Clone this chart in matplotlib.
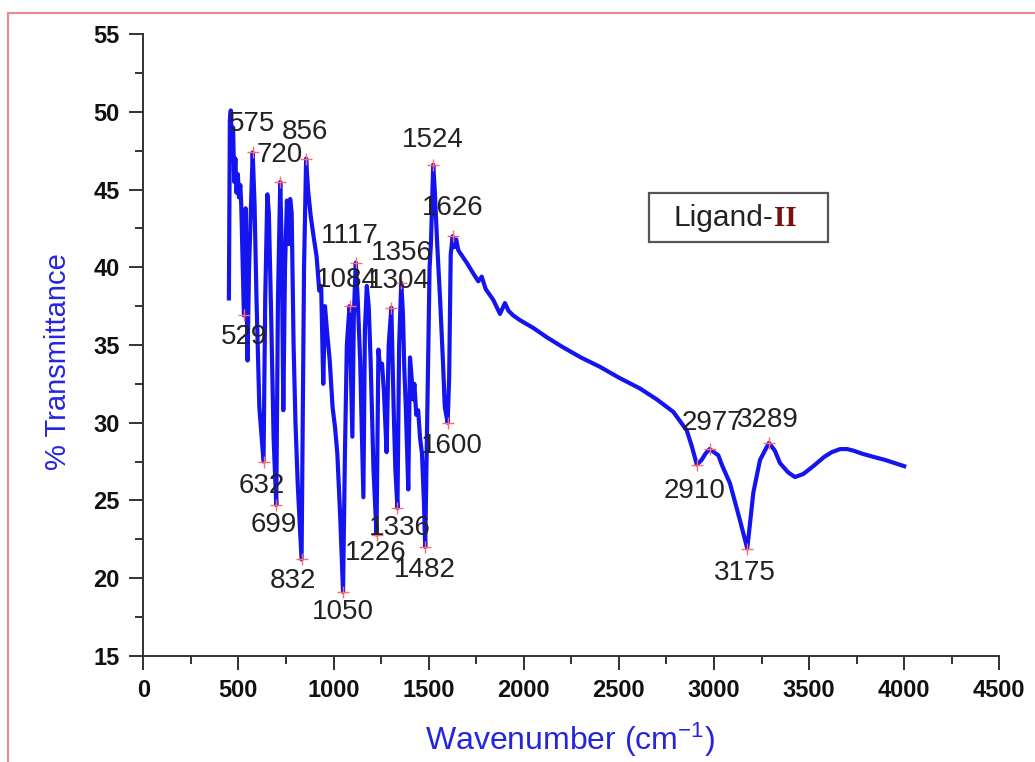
import matplotlib
matplotlib.use("Agg")
import matplotlib.pyplot as plt
from matplotlib.lines import Line2D
from matplotlib.patches import Rectangle
from matplotlib.ticker import MultipleLocator

plt.rcParams['font.family'] = ['Liberation Sans', 'DejaVu Sans']
plt.rcParams['mathtext.default'] = 'regular'

# ---- spectrum data (wavenumber cm-1, %T) ----
wavenumber = [450, 455, 460, 466, 472, 478, 484, 490, 497, 503, 510, 515, 529, 538, 548, 556,
              575, 585, 595, 610, 632, 641, 652, 660, 672, 685, 699, 708, 720, 728, 736, 745,
              755, 765, 772, 780, 790, 800, 812, 832, 845, 856, 866, 880, 895, 911, 925, 935,
              946, 955, 965, 980, 995, 1008, 1020, 1035, 1050, 1060, 1070, 1084, 1092, 1099,
              1107, 1117, 1127, 1140, 1157, 1165, 1175, 1185, 1195, 1210, 1226, 1236, 1245,
              1255, 1265, 1279, 1290, 1304, 1316, 1325, 1336, 1345, 1356, 1365, 1372, 1380,
              1393, 1402, 1410, 1418, 1425, 1435, 1445, 1455, 1465, 1475, 1482, 1495, 1505,
              1512, 1524, 1532, 1545, 1560, 1575, 1585, 1600, 1608, 1616, 1626, 1635, 1645,
              1656, 1700, 1735, 1761, 1779, 1800, 1840, 1875, 1901, 1920, 1945, 1980, 2050,
              2121, 2200, 2300, 2400, 2500, 2611, 2699, 2786, 2857, 2883, 2910, 2935, 2955,
              2977, 3000, 3023, 3041, 3084, 3137, 3175, 3207, 3242, 3289, 3320, 3347, 3390,
              3426, 3470, 3522, 3580, 3619, 3663, 3700, 3733, 3780, 3838, 3900, 3950, 4000]
transmittance = [38.0, 49.5, 50.1, 47.5, 49.0, 45.5, 47.0, 44.8, 46.0, 44.5, 45.3, 44.0, 36.9,
                 43.8, 34.0, 40.0, 47.4, 44.0, 38.0, 31.0, 27.5, 38.0, 44.7, 43.5, 37.0, 29.0,
                 24.7, 38.0, 45.5, 41.0, 30.8, 40.0, 44.3, 41.5, 44.4, 43.5, 35.0, 30.0, 26.0,
                 21.2, 40.0, 47.0, 45.0, 43.3, 42.0, 40.7, 38.5, 38.8, 32.5, 37.5, 36.0, 34.0,
                 31.0, 29.7, 28.0, 24.0, 19.1, 28.0, 35.0, 37.5, 33.0, 29.1, 37.0, 40.3, 38.0,
                 34.0, 25.2, 36.0, 38.8, 37.5, 34.0, 27.0, 22.8, 34.7, 33.5, 33.8, 32.0, 28.1,
                 35.0, 37.4, 31.0, 27.0, 24.5, 35.0, 39.0, 37.0, 33.5, 31.0, 25.7, 34.2, 33.0,
                 31.5, 32.5, 30.5, 30.8, 29.0, 28.0, 25.0, 22.0, 32.0, 40.0, 41.5, 46.6, 45.0,
                 41.5, 38.0, 34.0, 31.0, 30.0, 33.0, 40.8, 42.0, 41.3, 41.8, 41.1, 40.3, 39.6,
                 39.1, 39.4, 38.6, 37.9, 37.0, 37.7, 37.2, 36.9, 36.6, 36.1, 35.5, 34.9, 34.2,
                 33.6, 32.9, 32.2, 31.5, 30.7, 29.5, 28.5, 27.3, 27.6, 28.0, 28.3, 28.1, 27.9,
                 27.3, 26.1, 23.7, 21.9, 25.5, 27.6, 28.7, 28.2, 27.4, 26.8, 26.5, 26.7, 27.2,
                 27.8, 28.1, 28.3, 28.3, 28.2, 28.0, 27.8, 27.6, 27.4, 27.2]

# ---- labelled peaks ----
peak_labels = ['529', '575', '632', '699', '720', '832', '856', '1050', '1084', '1117', '1226',
               '1304', '1336', '1356', '1482', '1524', '1600', '1626', '2910', '2977', '3175',
               '3289']
peak_wn = [529, 575, 632, 699, 720, 832, 856, 1050, 1084, 1117, 1226, 1304, 1336, 1356, 1482,
           1524, 1600, 1626, 2910, 2977, 3175, 3289]
# label anchor positions (wavenumber, %T)
label_x = [529, 571, 625, 687, 719, 787, 850, 1050, 1072, 1086, 1224, 1345, 1350, 1360, 1481,
           1523, 1623, 1628, 2900, 2990, 3162, 3284]
label_y = [35.5, 49.2, 25.9, 23.4, 47.2, 19.8, 48.7, 17.8, 39.2, 42.0, 21.6, 39.1, 23.2, 40.9,
           20.5, 48.2, 28.5, 43.8, 25.6, 30.0, 20.3, 30.2]

W, H = 1035, 762
fig = plt.figure(figsize=(W / 100, H / 100), dpi=100)
ax = fig.add_axes([143.3 / W, 1 - 655.7 / H, (999.3 - 143.3) / W, (655.7 - 34.3) / H])

blue = '#1414F0'
ax.plot(wavenumber, transmittance, color=blue, lw=3.0, solid_joinstyle='round', zorder=3)

peak_T = [transmittance[wavenumber.index(w)] for w in peak_wn]
ax.plot(peak_wn, peak_T, ls='none', marker='+', ms=8, mew=1.0, color='#FF6A6A', zorder=4)
for t, lx, ly in zip(peak_labels, label_x, label_y):
    ax.text(lx, ly, t, ha='center', va='center', fontsize=20, color='#222222', zorder=5)

ax.set_xlim(0, 4500)
ax.set_ylim(15, 55)
ax.xaxis.set_major_locator(MultipleLocator(500))
ax.xaxis.set_minor_locator(MultipleLocator(250))
ax.yaxis.set_major_locator(MultipleLocator(5))
ax.yaxis.set_minor_locator(MultipleLocator(2.5))
for s in ['top', 'right']:
    ax.spines[s].set_visible(False)
for s in ['left', 'bottom']:
    ax.spines[s].set_linewidth(1.4)
    ax.spines[s].set_color('#333333')
ax.tick_params(which='major', direction='out', length=10, width=1.4, color='#333333',
               labelsize=17, pad=7)
ax.tick_params(which='minor', direction='out', length=5.5, width=1.4, color='#333333')
for lab in ax.get_xticklabels() + ax.get_yticklabels():
    lab.set_fontweight('bold')
    lab.set_color('#111111')

fig.text(58 / W, 1 - 362 / H, '% Transmittance', rotation=90, ha='center', va='center',
         fontsize=21, color='#2525E0')
fig.text(570 / W, 1 - 740 / H, 'Wavenumber (cm$^{-1}$)', ha='center', va='center',
         fontsize=23, color='#2525E0')

# legend box
fig.add_artist(Rectangle((649 / W, 1 - 242 / H), (828 - 649) / W, (242 - 193) / H,
                         transform=fig.transFigure, fill=True, facecolor='white',
                         edgecolor='#555555', lw=1.6, zorder=6))
fig.text(773 / W, 1 - 218 / H, 'Ligand-', ha='right', va='center', fontsize=21.5,
         color='#222222', zorder=7)
fig.text(774 / W, 1 - 218 / H, 'II', ha='left', va='center', fontsize=21,
         family='Liberation Serif', fontweight='bold', color='#7A1010', zorder=7)

# red outer frame
red = '#E88A8A'
fig.add_artist(Line2D([7.5 / W, 7.5 / W], [0, 1 - 12.7 / H], transform=fig.transFigure,
                      color=red, lw=1.5))
fig.add_artist(Line2D([7.5 / W, 1], [1 - 12.7 / H, 1 - 12.7 / H], transform=fig.transFigure,
                      color=red, lw=1.5))

fig.savefig('out.png', dpi=100)
